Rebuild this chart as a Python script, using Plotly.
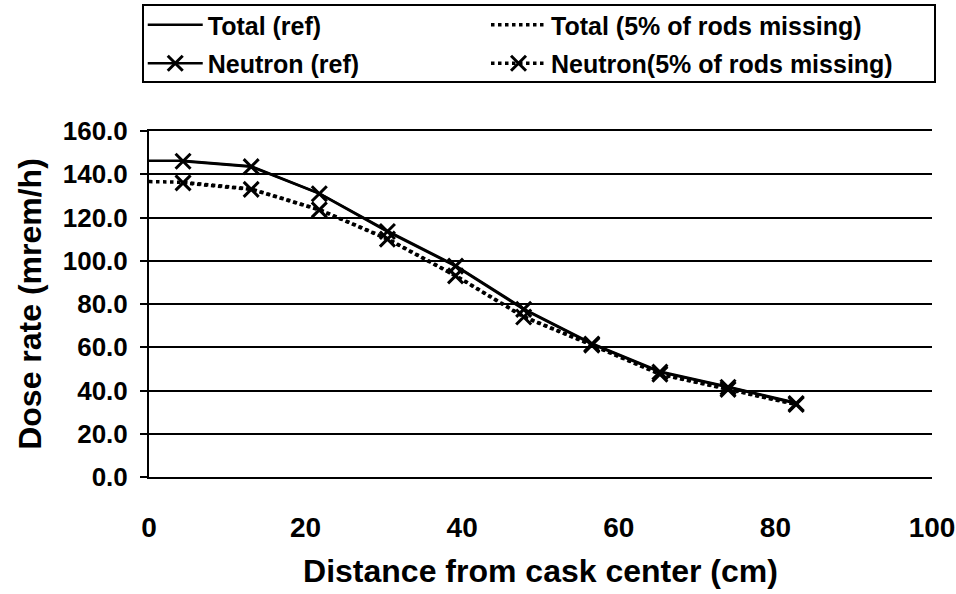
import plotly.graph_objects as go

# Radial positions of the detector points (cm from cask center)
distance = [4.35, 13.05, 21.75, 30.45, 39.15, 47.85, 56.55, 65.25, 73.95, 82.65]
# Total curves also start at the cask center
distance_total = [0.0] + distance

neutron_ref = [146.0, 143.5, 131.0, 113.5, 97.5, 77.5, 61.5, 48.5, 41.5, 34.0]
neutron_missing = [136.0, 133.0, 123.5, 110.0, 93.0, 74.0, 61.0, 47.5, 40.5, 33.5]
total_ref = [146.2, 146.2, 143.7, 131.2, 113.8, 97.8, 77.8, 61.8, 48.8, 41.8, 34.3]
total_missing = [136.6, 136.3, 133.2, 123.7, 110.2, 93.2, 74.2, 61.2, 47.7, 40.7, 33.7]

y_ticks = [0, 20, 40, 60, 80, 100, 120, 140, 160]
x_ticks = [0, 20, 40, 60, 80, 100]

FONT = "Liberation Sans, Arial, sans-serif"
X_MARK = dict(symbol="x-thin-open", size=15, color="black",
              line=dict(color="black", width=3))

fig = go.Figure()
# left legend column: reference case
fig.add_trace(go.Scatter(
    x=distance_total, y=total_ref, mode="lines", name="Total (ref)",
    legend="legend", legendgroup="a",
    line=dict(color="black", width=2.5),
))
fig.add_trace(go.Scatter(
    x=distance, y=neutron_ref, mode="lines+markers", name="Neutron (ref)",
    legend="legend", legendgroup="b",
    line=dict(color="black", width=2.5), marker=X_MARK,
))
# right legend column: 5% of rods missing
fig.add_trace(go.Scatter(
    x=distance_total, y=total_missing, mode="lines",
    name="Total (5% of rods missing)", legend="legend2", legendgroup="c",
    line=dict(color="black", width=3.5, dash="dot"),
))
fig.add_trace(go.Scatter(
    x=distance, y=neutron_missing, mode="lines+markers",
    name="Neutron(5% of rods missing)", legend="legend2", legendgroup="d",
    line=dict(color="black", width=3.5, dash="dot"), marker=X_MARK,
))

legend_style = dict(
    orientation="v", yanchor="top", y=1.3728, xanchor="left",
    itemwidth=55, tracegroupgap=3, bgcolor="rgba(0,0,0,0)", borderwidth=0,
    font=dict(family=FONT, size=25, color="black", weight="bold"),
)

fig.update_layout(
    width=956, height=594,
    paper_bgcolor="white", plot_bgcolor="white",
    margin=dict(l=149, r=24, t=131, b=117, autoexpand=False),
    font=dict(family=FONT, color="black"),
    legend=dict(x=-0.008, **legend_style),
    legend2=dict(x=0.4304, **legend_style),
    # frame around both legend columns
    shapes=[dict(
        type="rect", xref="paper", yref="paper",
        x0=-0.00766, x1=1.00383, y0=1.1416, y1=1.3642,
        line=dict(color="black", width=2), fillcolor="rgba(0,0,0,0)",
    )],
    xaxis=dict(
        range=[0, 100], tickvals=x_ticks, ticks="", showgrid=False,
        zeroline=False, showline=True, mirror=True,
        linecolor="black", linewidth=2, ticklabelstandoff=24,
        tickfont=dict(family=FONT, size=28, weight="bold"),
        title=dict(text="Distance from cask center (cm)", standoff=18,
                   font=dict(family=FONT, size=32, weight="bold")),
    ),
    yaxis=dict(
        range=[0, 160], tickvals=y_ticks, tickformat=".1f",
        ticks="outside", ticklen=7, tickwidth=2, tickcolor="black",
        showline=True, linecolor="black", linewidth=2,
        showgrid=True, gridcolor="black", gridwidth=2, zeroline=False,
        tickfont=dict(family=FONT, size=26, weight="bold"),
        ticklabelstandoff=7,
        title=dict(text="Dose rate (mrem/h)", standoff=12,
                   font=dict(family=FONT, size=32, weight="bold")),
    ),
)

fig.write_html("out.html")
